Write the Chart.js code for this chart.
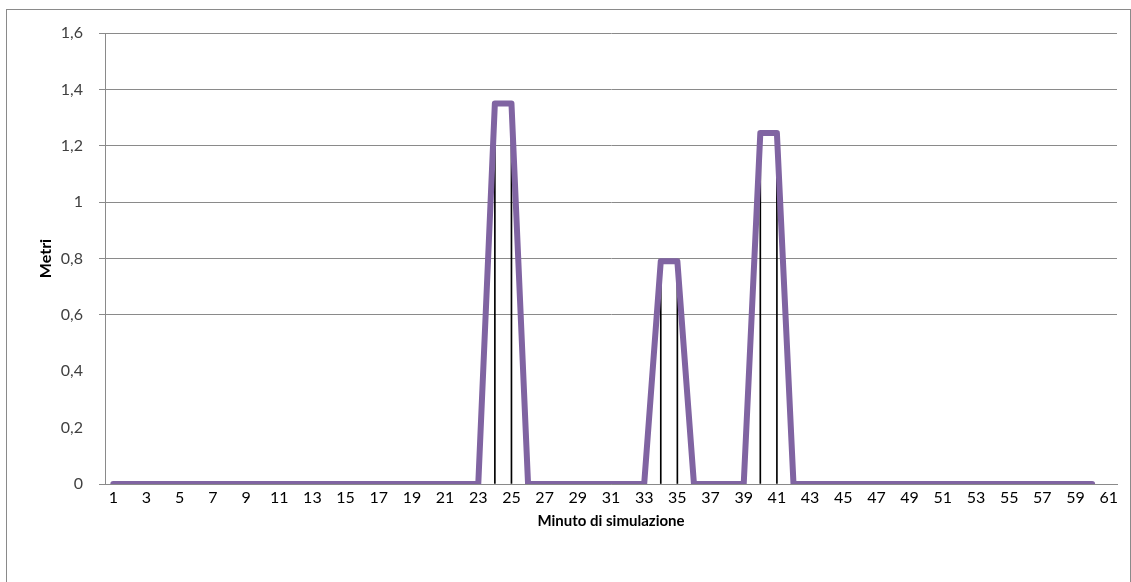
<!DOCTYPE html>
<html lang="it">
<head>
    <meta charset="UTF-8">
    <title>Metri per minuto di simulazione</title>
    <script src="https://cdn.jsdelivr.net/npm/chart.js"></script>
    <style>
        body {
            margin: 0;
            padding: 0;
            background: #fff;
        }

        .wrap {
            position: relative;
            width: 1131px;
            height: 582px;
            overflow: hidden;
        }

        .frame {
            position: absolute;
            left: 6px;
            top: 9px;
            width: 1123px;
            height: 620px;
            border: 1px solid #8a8a8a;
            pointer-events: none;
        }
    </style>
</head>
<body>
    <div class="wrap">
        <canvas id="chart" width="1131" height="582"></canvas>
        <div class="frame"></div>
    </div>

    <script>
        // minuti 1..61 (l'ultimo senza dato)
        const minutes = [];
        for (let m = 1; m <= 61; m++) minutes.push(String(m));

        // livello in metri, minuti 1..60
        const metri = [
            0, 0, 0, 0, 0, 0, 0, 0, 0, 0,
            0, 0, 0, 0, 0, 0, 0, 0, 0, 0,
            0, 0, 0, 1.35, 1.35, 0, 0, 0, 0, 0,
            0, 0, 0, 0.79, 0.79, 0, 0, 0, 0, 1.245,
            1.245, 0, 0, 0, 0, 0, 0, 0, 0, 0,
            0, 0, 0, 0, 0, 0, 0, 0, 0, 0
        ];

        const yTicks = [0, 0.2, 0.4, 0.6, 0.8, 1, 1.2, 1.4, 1.6];
        const gridShown = [0, 0.6, 0.8, 1, 1.2, 1.4, 1.6];

        const FONT = 'Lato, "Open Sans", sans-serif';
        const gray = '#8a8a8a';

        const showGrid = (ctx) => {
            const v = ctx.tick ? Math.round(ctx.tick.value * 10) / 10 : null;
            return gridShown.includes(v) ? gray : 'rgba(0,0,0,0)';
        };

        new Chart(document.getElementById('chart'), {
            data: {
                labels: minutes,
                datasets: [
                    {
                        type: 'line',
                        data: metri,
                        borderColor: '#8064A2',
                        borderWidth: 6,
                        borderCapStyle: 'round',
                        borderJoinStyle: 'round',
                        pointRadius: 0,
                        tension: 0,
                        order: 0
                    },
                    {
                        type: 'bar',
                        data: metri,
                        backgroundColor: '#000',
                        barThickness: 1,
                        order: 1
                    }
                ]
            },
            options: {
                responsive: false,
                animation: false,
                layout: {
                    padding: { left: 0, right: 14, top: 33, bottom: 0 }
                },
                plugins: {
                    legend: { display: false },
                    tooltip: { enabled: false }
                },
                scales: {
                    x: {
                        offset: true,
                        grid: { display: false, drawTicks: false },
                        border: { color: gray, width: 1 },
                        ticks: {
                            autoSkip: false,
                            maxRotation: 0,
                            padding: 4,
                            color: '#000',
                            font: { family: FONT, size: 16 },
                            callback: (v, i) => (i % 2 === 0 ? minutes[i] : '')
                        },
                        title: {
                            display: true,
                            text: 'Minuto di simulazione',
                            color: '#000',
                            font: { family: FONT, size: 15, weight: 'bold' },
                            padding: { top: 0, bottom: 52 }
                        },
                        afterFit: (s) => { s.height = 582 - 484; }
                    },
                    y: {
                        min: 0,
                        max: 1.6,
                        afterBuildTicks: (s) => { s.ticks = yTicks.map(v => ({ value: v })); },
                        grid: {
                            color: showGrid,
                            tickColor: showGrid,
                            tickLength: 6,
                            lineWidth: 1
                        },
                        border: { color: gray, width: 1 },
                        ticks: {
                            padding: 16,
                            color: '#404040',
                            font: { family: FONT, size: 16 },
                            callback: (v) => String(Math.round(v * 10) / 10).replace('.', ',')
                        },
                        title: {
                            display: true,
                            text: 'Metri',
                            color: '#000',
                            font: { family: FONT, size: 16, weight: 'bold' },
                            padding: { top: 36, bottom: 0 }
                        },
                        afterFit: (s) => { s.width = 105; }
                    }
                }
            }
        });
    </script>
</body>
</html>
